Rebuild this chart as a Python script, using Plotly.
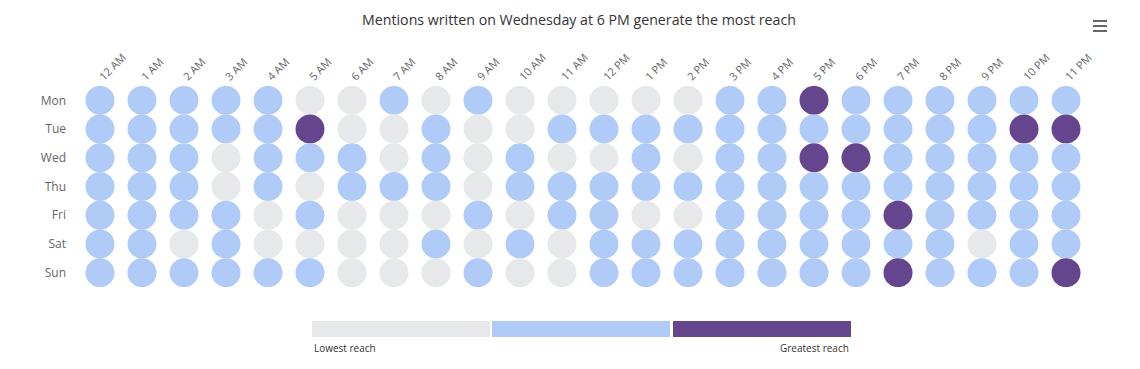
import plotly.graph_objects as go

days = ["Mon", "Tue", "Wed", "Thu", "Fri", "Sat", "Sun"]
hours = ["12 AM", "1 AM", "2 AM", "3 AM", "4 AM", "5 AM", "6 AM", "7 AM", "8 AM", "9 AM",
         "10 AM", "11 AM", "12 PM", "1 PM", "2 PM", "3 PM", "4 PM", "5 PM", "6 PM", "7 PM",
         "8 PM", "9 PM", "10 PM", "11 PM"]

# reach level per day (0 = lowest, 1 = medium, 2 = greatest), one value per hour
mon = [1, 1, 1, 1, 1, 0, 0, 1, 0, 1, 0, 0, 0, 0, 0, 1, 1, 2, 1, 1, 1, 1, 1, 1]
tue = [1, 1, 1, 1, 1, 2, 0, 0, 1, 0, 0, 1, 1, 1, 1, 1, 1, 1, 1, 1, 1, 1, 2, 2]
wed = [1, 1, 1, 0, 1, 1, 1, 0, 1, 0, 1, 0, 0, 1, 0, 1, 1, 2, 2, 1, 1, 1, 1, 1]
thu = [1, 1, 1, 0, 1, 0, 1, 1, 1, 0, 1, 1, 1, 1, 1, 1, 1, 1, 1, 1, 1, 1, 1, 1]
fri = [1, 1, 1, 1, 0, 1, 0, 0, 0, 1, 0, 1, 1, 0, 0, 1, 1, 1, 1, 2, 1, 1, 1, 1]
sat = [1, 1, 0, 1, 0, 0, 0, 0, 1, 0, 1, 0, 1, 1, 1, 1, 1, 1, 1, 1, 1, 0, 1, 1]
sun = [1, 1, 1, 1, 1, 1, 0, 0, 0, 1, 0, 0, 1, 1, 1, 1, 1, 1, 1, 2, 1, 1, 1, 2]

level_colors = ["#e6e8ea", "#b0cbf8", "#66458f"]
legend_labels = ["Lowest reach", "Greatest reach"]
title_text = "Mentions written on Wednesday at 6 PM generate the most reach"

rows = [mon, tue, wed, thu, fri, sat, sun]
xs, ys, cs = [], [], []
for d, row in zip(days, rows):
    for h, v in zip(hours, row):
        xs.append(h)
        ys.append(d)
        cs.append(level_colors[v])

fig = go.Figure()
fig.add_trace(go.Scatter(
    x=xs, y=ys, mode="markers",
    marker=dict(size=29, color=cs, line=dict(width=0)),
    hoverinfo="x+y", showlegend=False,
))

OFF = 8  # page body margin
W, H = 1140 - OFF, 369 - OFF
# plot area in window pixel coordinates
L, R, T, B = 79, 1087, 86, 287
ml, mr, mt, mb = L - OFF, W - (R - OFF), T - OFF, H - (B - OFF)
pw, ph = R - L, B - T

def px_x(p):
    return (p - L) / pw

def px_y(p):
    return (B - p) / ph

shapes = []
# legend colour bar
seg_left = [312, 492, 673]
seg_w = 178
for left, col in zip(seg_left, level_colors):
    shapes.append(dict(type="rect", xref="paper", yref="paper",
                       x0=px_x(left), x1=px_x(left + seg_w),
                       y0=px_y(337), y1=px_y(321),
                       fillcolor=col, line=dict(width=0), layer="above"))
# export menu icon
for yy in [21, 26, 31]:
    shapes.append(dict(type="line", xref="paper", yref="paper",
                       x0=px_x(1093), x1=px_x(1107), y0=px_y(yy), y1=px_y(yy),
                       line=dict(color="#666666", width=2)))

annotations = [
    dict(text=legend_labels[0], xref="paper", yref="paper", x=px_x(312), y=px_y(348),
         xanchor="left", yanchor="middle", showarrow=False,
         font=dict(size=10, color="#333333")),
    dict(text=legend_labels[1], xref="paper", yref="paper", x=px_x(851), y=px_y(348),
         xanchor="right", yanchor="middle", showarrow=False,
         font=dict(size=10, color="#333333")),
]

fig.update_layout(
    width=W, height=H,
    margin=dict(l=ml, r=mr, t=mt, b=mb, autoexpand=False),
    paper_bgcolor="white", plot_bgcolor="white",
    font=dict(family="Open Sans, sans-serif", color="#666666"),
    title=dict(text=title_text, x=(579 - OFF) / W, xanchor="center",
               y=1 - (20 - OFF) / H, yanchor="middle",
               xref="container", yref="container", font=dict(size=14.2, color="#333333")),
    xaxis=dict(type="category", categoryorder="array", categoryarray=hours,
               side="top", tickangle=-45, showgrid=False, zeroline=False, showline=False,
               ticks="", tickfont=dict(size=11, color="#666666"), range=[-0.5, 23.5],
               fixedrange=True),
    yaxis=dict(type="category", categoryorder="array", categoryarray=days,
               range=[6.5, -0.5], showgrid=False, zeroline=False, showline=False,
               ticks="", tickfont=dict(size=12, color="#666666"), ticklabelstandoff=12,
               fixedrange=True),
    shapes=shapes,
    annotations=annotations,
)

fig.write_html("out.html", config={"displayModeBar": False})
